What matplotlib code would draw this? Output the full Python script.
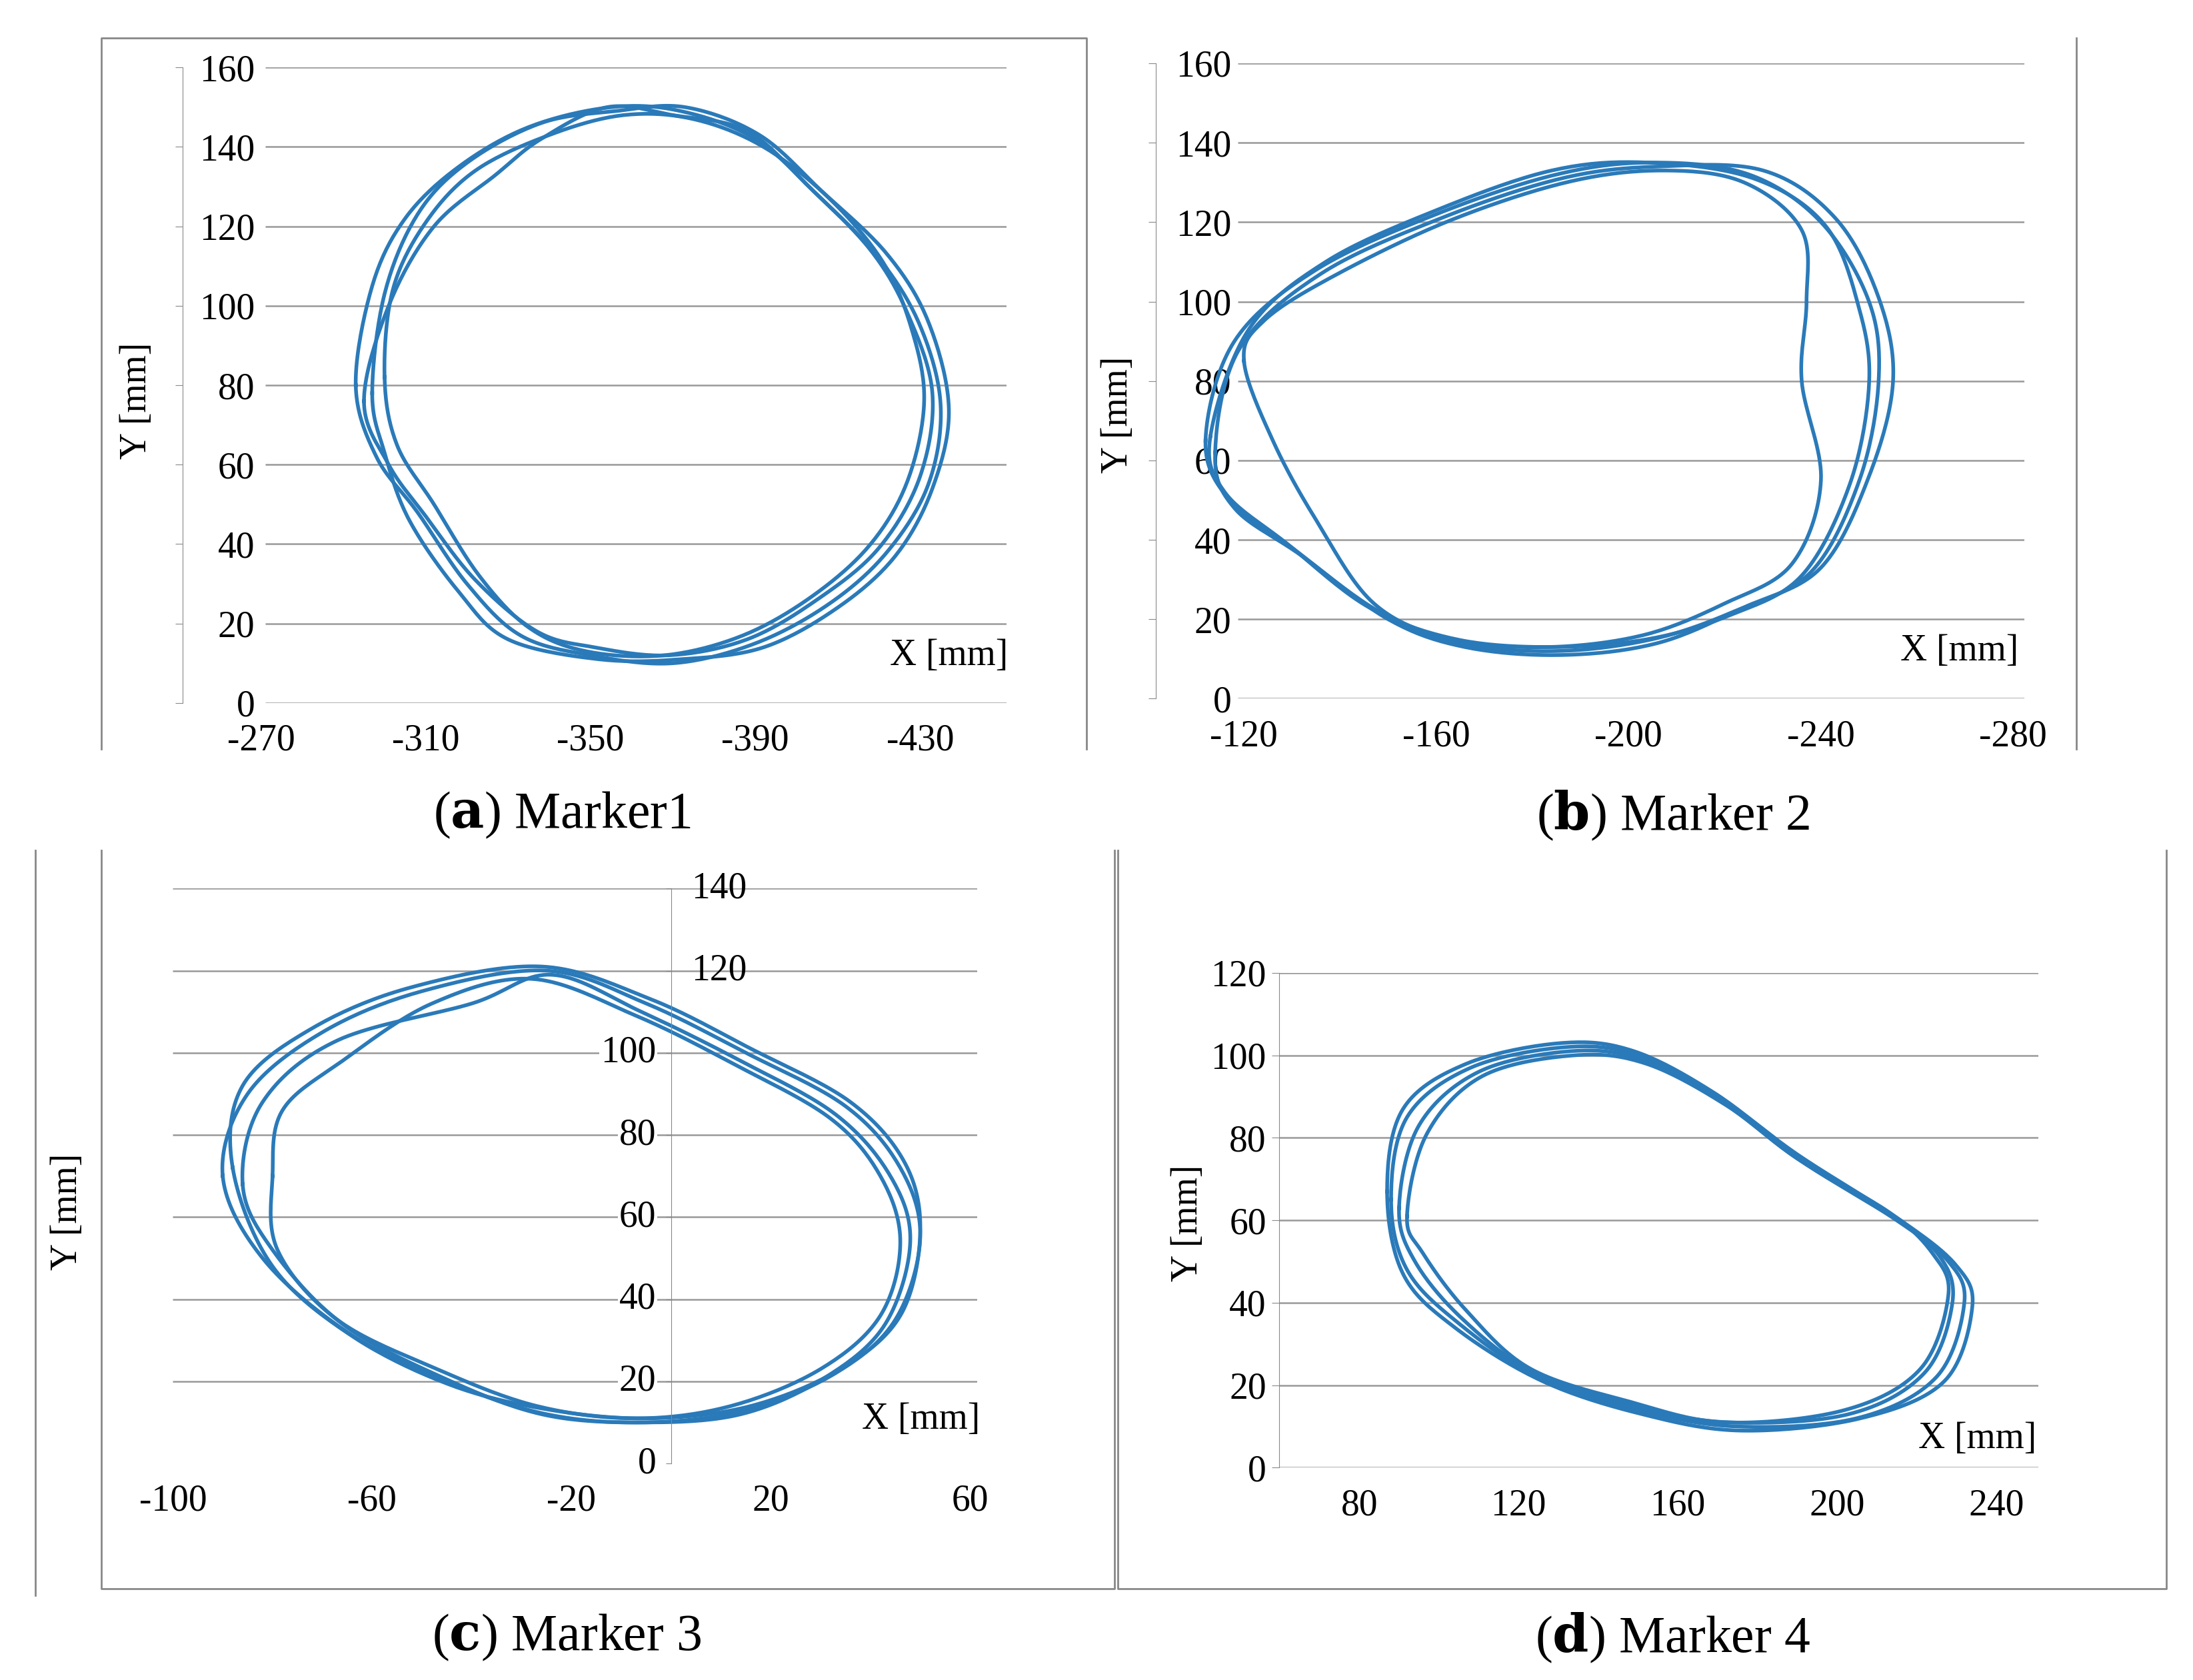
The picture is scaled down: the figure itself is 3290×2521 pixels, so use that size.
import numpy as np
import matplotlib
matplotlib.use("Agg")
import matplotlib.pyplot as plt
from matplotlib.lines import Line2D

plt.rcParams['font.family'] = ['Liberation Serif', 'DejaVu Serif']
plt.rcParams['axes.unicode_minus'] = False
COL = '#2a7ab9'
W, H = 1560.0, 1195.0

# ---------------- data (hand-read loops) ----------------
m1_loops = [
    ([-293,-297,-305,-318,-335,-355,-372,-390,-405,-420,-430,-435,-432,-422,-408,-390,-370,-350,-333,-320,-308,-298],
     [80,105,122,135,145,150,149,142,128,112,95,75,55,38,25,15,10,12,17,30,48,62]),
    ([-300,-302,-310,-322,-340,-358,-375,-392,-408,-421,-428,-431,-427,-418,-404,-387,-368,-349,-335,-323,-312,-303],
     [82,104,121,134,143,148,147,140,127,111,94,76,56,40,27,17,12,13,19,32,50,65]),
    ([-297,-300,-308,-320,-338,-356,-373,-391,-406,-422,-432,-437,-433,-424,-410,-392,-372,-352,-330,-318,-306,-300],
     [78,103,123,136,146,149,150,143,129,113,96,74,54,37,24,14,11,11,16,28,46,63]),
    ([-295,-301,-312,-327,-338,-354,-370,-388,-403,-418,-427,-433,-430,-420,-405,-388,-369,-351,-337,-322,-310,-301],
     [76,100,120,133,142,150,148,144,130,114,98,78,57,39,26,16,12,14,18,31,47,60]),
]
m2_loops = [
    ([-112,-118,-135,-160,-185,-205,-225,-240,-250,-252,-248,-238,-222,-205,-185,-165,-148,-130,-117],
     [65,90,108,122,132,135,132,120,100,80,55,32,22,15,12,14,22,38,50]),
    ([-120,-124,-138,-162,-187,-207,-224,-236,-237,-236,-240,-234,-220,-203,-183,-163,-147,-135,-126],
     [85,95,106,120,130,133,130,118,100,80,55,34,24,16,13,15,24,45,65]),
    ([-114,-119,-136,-161,-186,-206,-228,-243,-252,-255,-250,-240,-224,-206,-186,-166,-150,-132,-118],
     [62,88,107,121,131,134,133,121,101,80,56,33,23,14,11,13,20,36,48]),
    ([-113,-121,-137,-160,-184,-204,-226,-241,-248,-250,-246,-236,-221,-204,-184,-164,-146,-129,-116],
     [66,93,110,123,133,135,131,119,98,79,54,31,21,15,13,15,23,39,52]),
]
m3_loops = [
    ([-90,-85,-70,-50,-25,-5,15,35,46,50,45,33,15,-5,-25,-45,-65,-82],
     [70,90,105,115,120,112,100,87,72,55,35,22,13,10,12,20,32,50]),
    ([-86,-82,-67,-40,-24,-6,14,33,44,48,43,31,14,-6,-26,-46,-66,-80],
     [68,88,103,112,119,110,98,85,70,54,34,21,12,10,12,21,34,52]),
    ([-88,-86,-72,-52,-26,-4,16,36,47,50,46,34,16,-4,-24,-44,-64,-80],
     [72,92,106,116,121,113,101,88,73,56,36,23,14,11,13,19,31,48]),
    ([-80,-78,-66,-48,-28,-7,13,32,42,46,42,30,12,-7,-27,-47,-67,-79],
     [70,86,98,112,118,109,97,84,70,54,36,23,14,11,14,23,35,52]),
]
m4_loops = [
    ([88,92,108,132,150,170,190,215,228,232,225,205,175,150,125,105,92],
     [65,85,97,102,100,90,75,60,50,40,22,12,10,14,22,35,48]),
    ([90,95,110,133,151,171,191,214,226,229,222,203,173,149,124,106,94],
     [63,83,96,101,99,89,75,61,51,40,23,13,11,15,23,36,50]),
    ([87,91,107,131,149,169,190,216,230,234,227,206,176,151,126,104,91],
     [67,87,98,103,101,91,76,60,49,39,21,12,9,13,21,34,47]),
    ([92,97,111,134,152,172,190,213,224,228,221,202,172,148,123,107,96],
     [61,81,95,100,98,88,75,62,52,42,24,14,11,16,24,38,52]),
]

def smooth(xs, ys, n=20):
    P = np.column_stack([xs, ys]).astype(float)
    out = []
    m = len(P)
    t = np.linspace(0, 1, n, endpoint=False)[:, None]
    for i in range(m):
        p0, p1, p2, p3 = P[i-1], P[i], P[(i+1) % m], P[(i+2) % m]
        seg = 0.5*((2*p1) + (-p0+p2)*t + (2*p0-5*p1+4*p2-p3)*t**2 + (-p0+3*p1-3*p2+p3)*t**3)
        out.append(seg)
    out = np.vstack(out)
    return np.vstack([out, out[:1]])

fig = plt.figure(figsize=(32.9, 25.21), dpi=100)

def ax_at(x0, x1, yt, yb):
    return fig.add_axes([x0/W, 1-yb/H, (x1-x0)/W, (yb-yt)/H])

def fline(xs, ys, color='#888888', lw=2):
    fig.add_artist(Line2D([x/W for x in xs], [1-y/H for y in ys], color=color, lw=lw))

FS = 40
def draw_loops(ax, loops):
    for xs, ys in loops:
        s = smooth(xs, ys)
        ax.plot(s[:, 0], s[:, 1], color=COL, lw=4, solid_joinstyle='round')

def style(ax, xlim, ylim, xt, yt, gstart):
    ax.set_xlim(*xlim); ax.set_ylim(*ylim)
    for s in ['top', 'right', 'bottom']:
        ax.spines[s].set_visible(False)
    ax.spines['left'].set_color('#888888')
    ax.set_xticks(xt); ax.set_yticks(yt)
    ax.tick_params(axis='both', labelsize=FS, color='#888888', length=8)
    ax.tick_params(axis='x', length=0, pad=22)
    ax.hlines(yt, gstart, 1, transform=ax.get_yaxis_transform(), color='#999999', lw=1.8, zorder=0)

# Panel a
ax = ax_at(130, 716, 48, 500)
style(ax, (-251, -451), (0, 160), [-270, -310, -350, -390, -430], range(0, 161, 20), 0.10)
ax.tick_params(axis='y', pad=-86)
draw_loops(ax, m1_loops)
ax.text(0.93, 0.06, 'X [mm]', transform=ax.transAxes, fontsize=FS, ha='center')
fig.text(97/W, 1-285/H, 'Y [mm]', rotation=90, fontsize=FS, ha='center', va='center')
fline([72, 72, 773, 773], [533, 27, 27, 533])

# Panel b
ax = ax_at(822, 1440, 45, 497)
style(ax, (-101.6, -282.3), (0, 160), [-120, -160, -200, -240, -280], range(0, 161, 20), 0.095)
ax.tick_params(axis='y', pad=-90)
draw_loops(ax, m2_loops)
ax.text(0.925, 0.06, 'X [mm]', transform=ax.transAxes, fontsize=FS, ha='center')
fig.text(795/W, 1-295/H, 'Y [mm]', rotation=90, fontsize=FS, ha='center', va='center')
fline([1477, 1477], [27, 533])

# Panel c
ax = ax_at(123, 695, 632, 1041)
ax.set_xlim(-99.2, 61.4); ax.set_ylim(0, 140)
for s in ['top', 'right', 'bottom']:
    ax.spines[s].set_visible(False)
ax.spines['left'].set_position(('data', 0)); ax.spines['left'].set_color('#888888')
ax.set_yticks(range(0, 141, 20)); ax.set_yticklabels([])
ax.tick_params(axis='y', length=6, color='#888888')
ax.set_xticks([-100, -60, -20, 20, 60])
ax.tick_params(axis='x', length=0, pad=22, labelsize=FS)
ax.hlines(range(20, 141, 20), 0, 1, transform=ax.get_yaxis_transform(), color='#999999', lw=1.8, zorder=0)
draw_loops(ax, m3_loops)
for v in range(0, 141, 20):
    if v >= 120:
        ax.text(4, v, str(v), fontsize=FS, ha='left', va='center')
    else:
        ax.text(-3, v, str(v), fontsize=FS, ha='right', va='center',
                bbox=dict(fc='white', ec='none', pad=1) if v > 0 else None)
ax.text(0.93, 0.06, 'X [mm]', transform=ax.transAxes, fontsize=FS, ha='center')
fig.text(48/W, 1-862/H, 'Y [mm]', rotation=90, fontsize=FS, ha='center', va='center')
fline([25, 25], [605, 1135])
fline([72, 72, 793, 793], [605, 1130, 1130, 605])

# Panel d
ax = ax_at(910, 1450, 692, 1044)
style(ax, (59.9, 250.6), (0, 120), [80, 120, 160, 200, 240], range(0, 121, 20), 0.0)
ax.tick_params(axis='y', pad=6)
draw_loops(ax, m4_loops)
ax.text(0.92, 0.04, 'X [mm]', transform=ax.transAxes, fontsize=FS, ha='center', clip_on=False)
fig.text(845/W, 1-870/H, 'Y [mm]', rotation=90, fontsize=FS, ha='center', va='center')
fline([795, 795, 1541, 1541], [605, 1130, 1130, 605])

# Captions
CF = 56
for x, y, l, t in [(400, 580, 'a', ' Marker1'), (1190, 580, 'b', ' Marker 2'),
                   (403, 1165, 'c', ' Marker 3'), (1190, 1165, 'd', ' Marker 4')]:
    fig.text(x/W, 1-y/H, r'(' + r'$\mathbf{' + l + r'}$' + ')' + t, fontsize=CF,
             ha='center', va='center', math_fontfamily='dejavuserif')

fig.savefig('out.png', dpi=100)
